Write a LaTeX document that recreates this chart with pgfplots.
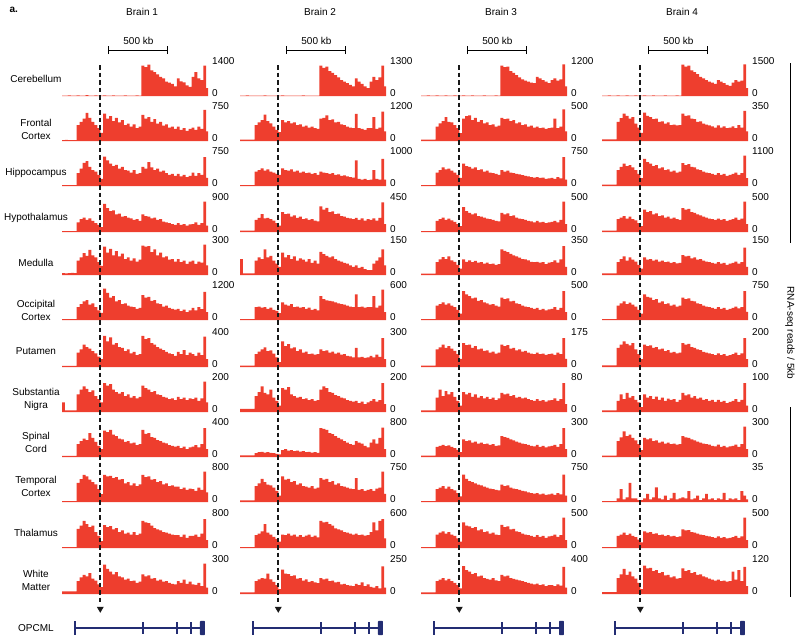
\documentclass[border=0pt]{standalone}
\usepackage{fontspec}
\setmainfont{Liberation Sans}
\usepackage{pgfplots}
\pgfplotsset{compat=1.18}
\definecolor{trkred}{RGB}{238,62,46}
\definecolor{genecol}{RGB}{35,45,115}
\pgfplotsset{
  track/.style={scale only axis, width=146pt, height=32pt, anchor=south west,
    xmin=0, xmax=1240, ymin=0, xtick=\empty, axis line style={draw=none},
    ytick pos=right, yticklabel pos=right, major tick length=0pt,
    scaled y ticks=false,
    yticklabel style={anchor=west, xshift=3pt, yshift=3pt, inner sep=1pt},
    /pgf/number format/1000 sep={}, /pgf/number format/assume math mode=true},
  trk/.style={fill=trkred, draw=none, const plot}
}
\newcommand\trk[4]{%
\begin{axis}[track, at={(#1pt,-#2pt)}, ymax=#3, ytick={0,#3}]
\addplot[trk] coordinates {#4} \closedcycle;
\end{axis}}
\newcommand\head[2]{%
\begin{axis}[scale only axis, width=146pt, height=10pt, at={(#1pt,-50pt)}, anchor=west,
  xmin=0, xmax=1240, ymin=-1, ymax=1, hide axis, clip=false]
\draw[line width=1pt] (axis cs:399,0) -- (axis cs:899,0);
\draw[line width=1pt] (axis cs:399,-0.8) -- (axis cs:399,0.8);
\draw[line width=1pt] (axis cs:899,-0.8) -- (axis cs:899,0.8);
\node[above, inner sep=0pt] at (axis cs:649,1.1) {500 kb};
\node at (axis cs:680,0) [yshift=38pt] {Brain #2};
\coordinate (dtop#2) at (axis cs:325,0);
\end{axis}}
\newcommand\gene[2]{%
\begin{axis}[scale only axis, width=146pt, height=16pt, at={(#1pt,-628pt)}, anchor=west,
  xmin=0, xmax=1240, ymin=-1, ymax=1, hide axis, clip=false]
\draw[genecol, line width=2pt] (axis cs:110,0) -- (axis cs:1200,0);
\fill[genecol] (axis cs:100,-0.85) rectangle (axis cs:122,0.85);
\fill[genecol] (axis cs:676,-0.7) rectangle (axis cs:696,0.7);
\fill[genecol] (axis cs:965,-0.7) rectangle (axis cs:985,0.7);
\fill[genecol] (axis cs:1085,-0.7) rectangle (axis cs:1105,0.7);
\fill[genecol, rounded corners=0.8pt] (axis cs:1172,-0.9) rectangle (axis cs:1214,0.9);
\fill[black!90] ([xshift=-3.5pt]axis cs:325,2.65) -- ([xshift=3.5pt]axis cs:325,2.65) -- (axis cs:325,1.9) -- cycle;
\coordinate (dbot#2) at (axis cs:325,3.2);
\end{axis}}
\begin{document}
\begin{tikzpicture}
\useasboundingbox (0pt,0pt) rectangle (800pt,-641pt);
\node[anchor=west, font=\bfseries] at (6pt,-10pt) {a.};
% row labels
\begin{scope}[every node/.style={align=center, font=\fontsize{10}{13}\selectfont}]
\node at (36pt,-79pt) {Cerebellum};
\node at (36pt,-129pt) {Frontal\\Cortex};
\node at (36pt,-173pt) {Hippocampus};
\node at (36pt,-218pt) {Hypothalamus};
\node at (36pt,-263pt) {Medulla};
\node at (36pt,-310pt) {Occipital\\Cortex};
\node at (36pt,-351pt) {Putamen};
\node at (36pt,-399pt) {Substantia\\Nigra};
\node at (36pt,-442pt) {Spinal\\Cord};
\node at (36pt,-486pt) {Temporal\\Cortex};
\node at (36pt,-533pt) {Thalamus};
\node at (36pt,-580pt) {White\\Matter};
\node at (36pt,-628pt) {OPCML};
\end{scope}
% headers
\head{62}{1}\head{240}{2}\head{421}{3}\head{602}{4}
% ---------------- Brain 1 ----------------
\trk{62}{96}{1400}{(0,14)(25,14)(50,28)(75,14)(100,14)(125,28)(150,14)(175,14)(200,42)(225,14)(250,14)(275,28)(300,14)(325,14)(350,28)(375,14)(400,14)(425,28)(450,14)(475,14)(500,14)(525,28)(550,14)(575,14)(600,14)(625,28)(650,14)(675,1330)(700,1260)(725,1370)(750,1120)(775,1050)(800,950)(825,840)(850,770)(875,630)(900,590)(925,530)(950,420)(975,770)(1000,640)(1025,600)(1050,470)(1075,400)(1100,840)(1125,1050)(1150,770)(1175,700)(1200,1330)(1225,350)(1240,350)}
\trk{62}{141}{750}{(0,20)(25,25)(50,20)(75,22)(100,20)(125,375)(150,450)(175,525)(200,660)(225,540)(250,450)(275,375)(300,300)(325,190)(350,640)(375,525)(400,585)(425,465)(450,540)(475,435)(500,490)(525,375)(550,410)(575,340)(600,390)(625,300)(650,340)(675,615)(700,525)(725,560)(750,450)(775,510)(800,410)(825,450)(850,360)(875,390)(900,315)(925,340)(950,285)(975,340)(1000,260)(1025,300)(1050,240)(1075,285)(1100,315)(1125,260)(1150,340)(1175,285)(1200,730)(1225,225)(1240,225)}
\trk{62}{186}{750}{(0,20)(25,20)(50,20)(75,20)(100,20)(125,300)(150,410)(175,540)(200,585)(225,450)(250,375)(275,340)(300,260)(325,165)(350,690)(375,600)(400,525)(425,465)(450,495)(475,410)(500,450)(525,375)(550,360)(575,315)(600,375)(625,285)(650,300)(675,450)(700,410)(725,560)(750,435)(775,375)(800,410)(825,340)(850,360)(875,300)(900,260)(925,285)(950,240)(975,285)(1000,225)(1025,260)(1050,210)(1075,240)(1100,315)(1125,240)(1150,300)(1175,260)(1200,675)(1225,190)(1240,190)}
\trk{62}{232}{900}{(0,25)(25,25)(50,25)(75,25)(100,25)(125,270)(150,360)(175,405)(200,340)(225,380)(250,315)(275,250)(300,200)(325,135)(350,790)(375,675)(400,585)(425,610)(450,495)(475,520)(500,430)(525,450)(550,405)(575,380)(600,340)(625,360)(650,315)(675,495)(700,450)(725,430)(750,380)(775,405)(800,340)(825,360)(850,290)(875,270)(900,250)(925,225)(950,200)(975,250)(1000,200)(1025,225)(1050,180)(1075,215)(1100,225)(1125,270)(1150,200)(1175,250)(1200,855)(1225,180)(1240,180)}
\trk{62}{275}{300}{(0,18)(25,15)(50,18)(75,20)(100,18)(125,135)(150,165)(175,205)(200,180)(225,235)(250,185)(275,165)(300,120)(325,85)(350,265)(375,210)(400,245)(425,185)(450,225)(475,175)(500,200)(525,150)(550,165)(575,135)(600,155)(625,125)(650,145)(675,275)(700,265)(725,270)(750,215)(775,240)(800,185)(825,210)(850,165)(875,175)(900,145)(925,150)(950,125)(975,150)(1000,120)(1025,135)(1050,105)(1075,125)(1100,135)(1125,105)(1150,125)(1175,115)(1200,285)(1225,90)(1240,90)}
\trk{62}{320}{1200}{(0,35)(25,35)(50,35)(75,35)(100,35)(125,480)(150,600)(175,695)(200,745)(225,575)(250,625)(275,480)(300,360)(325,265)(350,1175)(375,1020)(400,840)(425,900)(450,695)(475,745)(500,600)(525,625)(550,540)(575,505)(600,480)(625,420)(650,455)(675,935)(700,840)(725,865)(750,720)(775,745)(800,625)(825,600)(850,505)(875,540)(900,455)(925,420)(950,385)(975,420)(1000,335)(1025,385)(1050,300)(1075,360)(1100,455)(1125,360)(1150,480)(1175,410)(1200,1055)(1225,300)(1240,300)}
\trk{62}{367}{400}{(0,15)(25,15)(50,15)(75,15)(100,15)(125,180)(150,220)(175,280)(200,250)(225,230)(250,200)(275,170)(300,130)(325,100)(350,390)(375,320)(400,370)(425,280)(450,300)(475,250)(500,240)(525,200)(550,220)(575,170)(600,190)(625,150)(650,160)(675,390)(700,350)(725,360)(750,300)(775,280)(800,250)(825,230)(850,210)(875,190)(900,170)(925,160)(950,140)(975,190)(1000,160)(1025,210)(1050,150)(1075,180)(1100,160)(1125,140)(1150,180)(1175,150)(1200,380)(1225,100)(1240,100)}
\trk{62}{412}{200}{(0,60)(25,10)(50,10)(75,10)(100,10)(125,110)(150,140)(175,160)(200,145)(225,125)(250,135)(275,100)(300,80)(325,60)(350,180)(375,165)(400,175)(425,140)(450,125)(475,115)(500,125)(525,100)(550,110)(575,90)(600,100)(625,85)(650,95)(675,165)(700,150)(725,140)(750,125)(775,130)(800,110)(825,105)(850,95)(875,90)(900,80)(925,85)(950,75)(975,95)(1000,80)(1025,90)(1050,75)(1075,85)(1100,80)(1125,90)(1150,70)(1175,85)(1200,190)(1225,60)(1240,60)}
\trk{62}{457}{400}{(0,15)(25,15)(50,15)(75,15)(100,15)(125,160)(150,200)(175,230)(200,210)(225,300)(250,240)(275,190)(300,140)(325,100)(350,330)(375,310)(400,340)(425,280)(450,260)(475,230)(500,220)(525,190)(550,200)(575,170)(600,180)(625,150)(650,160)(675,340)(700,290)(725,300)(750,250)(775,240)(800,210)(825,200)(850,180)(875,170)(900,150)(925,140)(950,130)(975,140)(1000,110)(1025,130)(1050,100)(1075,120)(1100,130)(1125,150)(1150,120)(1175,160)(1200,360)(1225,100)(1240,100)}
\trk{62}{502}{800}{(0,25)(25,25)(50,25)(75,25)(100,25)(125,480)(150,575)(175,680)(200,640)(225,560)(250,495)(275,440)(300,320)(325,200)(350,680)(375,640)(400,655)(425,600)(450,625)(475,560)(500,575)(525,465)(550,495)(575,415)(600,465)(625,400)(650,440)(675,680)(700,625)(725,640)(750,560)(775,575)(800,495)(825,520)(850,440)(875,465)(900,400)(925,415)(950,385)(975,385)(1000,320)(1025,360)(1050,305)(1075,335)(1100,320)(1125,280)(1150,360)(1175,305)(1200,760)(1225,240)(1240,240)}
\trk{62}{548}{800}{(0,25)(25,25)(50,25)(75,25)(100,25)(125,480)(150,560)(175,680)(200,600)(225,520)(250,560)(275,400)(300,305)(325,175)(350,575)(375,520)(400,545)(425,465)(450,495)(475,400)(500,440)(525,360)(550,385)(575,335)(600,400)(625,320)(650,360)(675,680)(700,640)(725,625)(750,560)(775,495)(800,465)(825,440)(850,400)(875,385)(900,360)(925,335)(950,320)(975,320)(1000,280)(1025,335)(1050,255)(1075,305)(1100,305)(1125,335)(1150,280)(1175,360)(1200,720)(1225,200)(1240,200)}
\trk{62}{594}{300}{(0,25)(25,25)(50,25)(75,25)(100,25)(125,120)(150,155)(175,180)(200,165)(225,195)(250,145)(275,125)(300,90)(325,65)(350,275)(375,235)(400,210)(425,185)(450,205)(475,165)(500,155)(525,135)(550,145)(575,120)(600,125)(625,105)(650,115)(675,185)(700,165)(725,175)(750,145)(775,150)(800,125)(825,135)(850,115)(875,120)(900,105)(925,95)(950,90)(975,120)(1000,105)(1025,135)(1050,95)(1075,115)(1100,90)(1125,85)(1150,105)(1175,75)(1200,285)(1225,60)(1240,60)}
% ---------------- Brain 2 ----------------
\trk{240}{96}{1300}{(0,15)(25,15)(50,25)(75,15)(100,15)(125,20)(150,15)(175,15)(200,25)(225,15)(250,15)(275,20)(300,15)(325,15)(350,25)(375,15)(400,15)(425,20)(450,15)(475,15)(500,15)(525,25)(550,15)(575,15)(600,15)(625,20)(650,15)(675,1235)(700,1145)(725,1195)(750,1015)(775,935)(800,845)(825,755)(850,650)(875,585)(900,520)(925,455)(950,390)(975,715)(1000,585)(1025,495)(1050,390)(1075,325)(1100,585)(1125,780)(1150,650)(1175,755)(1200,1235)(1225,390)(1240,390)}
\trk{240}{141}{1200}{(0,50)(25,50)(50,50)(75,50)(100,50)(125,600)(150,695)(175,780)(200,985)(225,745)(250,660)(275,540)(300,420)(325,335)(350,780)(375,695)(400,745)(425,660)(450,695)(475,600)(500,625)(525,540)(550,575)(575,505)(600,540)(625,480)(650,455)(675,840)(700,865)(725,960)(750,780)(775,815)(800,695)(825,720)(850,625)(875,600)(900,540)(925,505)(950,480)(975,1020)(1000,480)(1025,455)(1050,420)(1075,480)(1100,480)(1125,900)(1150,455)(1175,505)(1200,1105)(1225,360)(1240,360)}
\trk{240}{186}{1000}{(0,30)(25,30)(50,30)(75,30)(100,30)(125,450)(150,500)(175,550)(200,480)(225,520)(250,450)(275,420)(300,380)(325,350)(350,550)(375,500)(400,480)(425,520)(450,450)(475,480)(500,420)(525,450)(550,400)(575,420)(600,380)(625,400)(650,350)(675,450)(700,420)(725,400)(750,380)(775,400)(800,350)(825,360)(850,320)(875,330)(900,300)(925,280)(950,260)(975,800)(1000,220)(1025,200)(1050,220)(1075,180)(1100,200)(1125,500)(1150,220)(1175,200)(1200,850)(1225,200)(1240,200)}
\trk{240}{232}{450}{(0,20)(25,20)(50,20)(75,20)(100,20)(125,170)(150,200)(175,250)(200,190)(225,200)(250,180)(275,160)(300,125)(325,90)(350,280)(375,250)(400,260)(425,215)(450,235)(475,200)(500,215)(525,180)(550,190)(575,170)(600,180)(625,160)(650,150)(675,360)(700,315)(725,340)(750,280)(775,290)(800,250)(825,260)(850,225)(875,215)(900,200)(925,190)(950,180)(975,200)(1000,170)(1025,190)(1050,160)(1075,180)(1100,170)(1125,190)(1150,160)(1175,200)(1200,415)(1225,110)(1240,110)}
\trk{240}{275}{150}{(0,75)(25,8)(50,8)(75,8)(100,8)(125,68)(150,83)(175,75)(200,120)(225,83)(250,90)(275,68)(300,53)(325,38)(350,105)(375,83)(400,93)(425,75)(450,87)(475,68)(500,78)(525,72)(550,63)(575,75)(600,57)(625,68)(650,53)(675,108)(700,98)(725,90)(750,83)(775,87)(800,75)(825,68)(850,63)(875,57)(900,53)(925,45)(950,38)(975,45)(1000,33)(1025,38)(1050,27)(1075,23)(1100,23)(1125,53)(1150,68)(1175,83)(1200,120)(1225,45)(1240,45)}
\trk{240}{320}{600}{(0,18)(25,18)(50,18)(75,18)(100,18)(125,240)(150,250)(175,230)(200,240)(225,210)(250,230)(275,190)(300,170)(325,130)(350,330)(375,290)(400,270)(425,300)(450,240)(475,250)(500,230)(525,240)(550,210)(575,230)(600,190)(625,210)(650,180)(675,450)(700,390)(725,370)(750,360)(775,350)(800,330)(825,310)(850,300)(875,290)(900,270)(925,250)(950,240)(975,480)(1000,240)(1025,250)(1050,230)(1075,240)(1100,240)(1125,450)(1150,230)(1175,270)(1200,570)(1225,150)(1240,150)}
\trk{240}{367}{300}{(0,12)(25,12)(50,12)(75,12)(100,12)(125,120)(150,145)(175,165)(200,185)(225,150)(250,155)(275,125)(300,90)(325,45)(350,240)(375,195)(400,215)(425,175)(450,185)(475,150)(500,165)(525,135)(550,145)(575,120)(600,125)(625,115)(650,120)(675,165)(700,150)(725,155)(750,135)(775,145)(800,125)(825,135)(850,115)(875,120)(900,105)(925,100)(950,90)(975,180)(1000,90)(1025,95)(1050,85)(1075,90)(1100,105)(1125,90)(1150,115)(1175,95)(1200,270)(1225,75)(1240,75)}
\trk{240}{412}{200}{(0,20)(25,20)(50,20)(75,20)(100,20)(125,100)(150,125)(175,160)(200,120)(225,110)(250,140)(275,90)(300,70)(325,40)(350,150)(375,140)(400,155)(425,110)(450,100)(475,90)(500,95)(525,80)(550,85)(575,75)(600,80)(625,70)(650,75)(675,140)(700,160)(725,150)(750,125)(775,120)(800,105)(825,100)(850,90)(875,85)(900,75)(925,70)(950,65)(975,70)(1000,55)(1025,65)(1050,50)(1075,60)(1100,70)(1125,80)(1150,65)(1175,75)(1200,180)(1225,50)(1240,50)}
\trk{240}{457}{800}{(0,40)(25,40)(50,40)(75,40)(100,40)(125,95)(150,120)(175,130)(200,110)(225,120)(250,105)(275,95)(300,80)(325,65)(350,175)(375,200)(400,160)(425,175)(450,145)(475,160)(500,135)(525,145)(550,120)(575,130)(600,110)(625,120)(650,105)(675,720)(700,705)(725,680)(750,600)(775,575)(800,520)(825,480)(850,440)(875,400)(900,360)(925,320)(950,305)(975,400)(1000,360)(1025,335)(1050,280)(1075,240)(1100,360)(1125,440)(1150,335)(1175,480)(1200,735)(1225,200)(1240,200)}
\trk{240}{502}{750}{(0,38)(25,38)(50,38)(75,38)(100,38)(125,375)(150,435)(175,540)(200,465)(225,410)(250,390)(275,340)(300,260)(325,150)(350,600)(375,525)(400,540)(425,465)(450,490)(475,410)(500,435)(525,375)(550,360)(575,340)(600,375)(625,315)(650,340)(675,560)(700,525)(725,540)(750,465)(775,490)(800,410)(825,435)(850,375)(875,360)(900,340)(925,315)(950,300)(975,560)(1000,285)(1025,300)(1050,260)(1075,285)(1100,300)(1125,260)(1150,315)(1175,340)(1200,710)(1225,190)(1240,190)}
\trk{240}{548}{600}{(0,18)(25,18)(50,18)(75,18)(100,18)(125,240)(150,270)(175,310)(200,450)(225,290)(250,250)(275,210)(300,170)(325,120)(350,250)(375,240)(400,270)(425,230)(450,250)(475,215)(500,240)(525,210)(550,230)(575,250)(600,210)(625,230)(650,200)(675,510)(700,480)(725,490)(750,450)(775,420)(800,370)(825,350)(850,330)(875,300)(900,290)(925,270)(950,250)(975,270)(1000,240)(1025,250)(1050,230)(1075,240)(1100,300)(1125,480)(1150,330)(1175,510)(1200,540)(1225,180)(1240,180)}
\trk{240}{594}{250}{(0,12)(25,12)(50,12)(75,12)(100,12)(125,100)(150,115)(175,125)(200,120)(225,160)(250,115)(275,95)(300,70)(325,38)(350,190)(375,160)(400,155)(425,140)(450,145)(475,120)(500,125)(525,105)(550,115)(575,95)(600,100)(625,90)(650,85)(675,125)(700,115)(725,120)(750,100)(775,105)(800,90)(825,95)(850,75)(875,80)(900,70)(925,65)(950,62)(975,80)(1000,70)(1025,90)(1050,62)(1075,75)(1100,55)(1125,50)(1150,62)(1175,45)(1200,215)(1225,50)(1240,50)}
% ---------------- Brain 3 ----------------
\trk{421}{96}{1200}{(0,12)(25,12)(50,24)(75,12)(100,12)(125,20)(150,12)(175,12)(200,24)(225,12)(250,12)(275,20)(300,12)(325,12)(350,24)(375,12)(400,12)(425,20)(450,12)(475,12)(500,12)(525,24)(550,12)(575,12)(600,12)(625,20)(650,12)(675,1140)(700,1080)(725,1105)(750,935)(775,865)(800,780)(825,695)(850,625)(875,575)(900,540)(925,505)(950,480)(975,720)(1000,660)(1025,600)(1050,540)(1075,480)(1100,600)(1125,660)(1150,575)(1175,625)(1200,1190)(1225,360)(1240,360)}
\trk{421}{141}{500}{(0,20)(25,20)(50,20)(75,20)(100,20)(125,225)(150,275)(175,310)(200,375)(225,300)(250,290)(275,250)(300,200)(325,125)(350,350)(375,390)(400,400)(425,325)(450,360)(475,300)(500,325)(525,275)(550,290)(575,250)(600,260)(625,225)(650,240)(675,360)(700,340)(725,350)(750,310)(775,325)(800,275)(825,290)(850,250)(875,260)(900,225)(925,240)(950,210)(975,225)(1000,200)(1025,210)(1050,190)(1075,200)(1100,210)(1125,350)(1150,200)(1175,225)(1200,495)(1225,150)(1240,150)}
\trk{421}{186}{750}{(0,22)(25,22)(50,22)(75,22)(100,22)(125,315)(150,375)(175,435)(200,390)(225,410)(250,360)(275,315)(300,260)(325,190)(350,525)(375,465)(400,450)(425,410)(450,435)(475,375)(500,390)(525,340)(550,360)(575,315)(600,300)(625,285)(650,260)(675,375)(700,340)(725,360)(750,315)(775,300)(800,285)(825,270)(850,255)(875,240)(900,225)(925,210)(950,195)(975,210)(1000,190)(1025,195)(1050,165)(1075,180)(1100,190)(1125,165)(1150,210)(1175,180)(1200,675)(1225,150)(1240,150)}
\trk{421}{232}{500}{(0,15)(25,15)(50,15)(75,15)(100,15)(125,175)(150,200)(175,225)(200,190)(225,210)(250,180)(275,160)(300,125)(325,90)(350,390)(375,325)(400,300)(425,275)(450,290)(475,250)(500,240)(525,225)(550,210)(575,200)(600,190)(625,175)(650,165)(675,300)(700,275)(725,290)(750,250)(775,260)(800,225)(825,210)(850,200)(875,190)(900,175)(925,165)(950,150)(975,175)(1000,150)(1025,160)(1050,140)(1075,150)(1100,160)(1125,175)(1150,150)(1175,190)(1200,475)(1225,125)(1240,125)}
\trk{421}{275}{350}{(0,14)(25,14)(50,14)(75,14)(100,14)(125,140)(150,170)(175,195)(200,175)(225,205)(250,160)(275,145)(300,110)(325,70)(350,170)(375,145)(400,160)(425,140)(450,155)(475,135)(500,140)(525,125)(550,135)(575,120)(600,125)(625,110)(650,120)(675,280)(700,265)(725,250)(750,230)(775,215)(800,205)(825,190)(850,175)(875,170)(900,160)(925,145)(950,140)(975,145)(1000,135)(1025,140)(1050,120)(1075,135)(1100,140)(1125,160)(1150,135)(1175,170)(1200,315)(1225,90)(1240,90)}
\trk{421}{320}{500}{(0,15)(25,15)(50,15)(75,15)(100,15)(125,225)(150,250)(175,275)(200,240)(225,260)(250,225)(275,200)(300,160)(325,100)(350,450)(375,400)(400,375)(425,340)(450,350)(475,300)(500,310)(525,275)(550,260)(575,240)(600,250)(625,225)(650,210)(675,350)(700,325)(725,340)(750,290)(775,300)(800,260)(825,250)(850,225)(875,210)(900,200)(925,190)(950,175)(975,190)(1000,160)(1025,175)(1050,150)(1075,165)(1100,175)(1125,200)(1150,160)(1175,190)(1200,450)(1225,125)(1240,125)}
\trk{421}{367}{175}{(0,7)(25,7)(50,7)(75,7)(100,7)(125,96)(150,108)(175,122)(200,105)(225,114)(250,101)(275,88)(300,70)(325,44)(350,131)(375,119)(400,122)(425,105)(450,114)(475,96)(500,101)(525,88)(550,91)(575,79)(600,84)(625,73)(650,79)(675,122)(700,114)(725,119)(750,101)(775,105)(800,91)(825,96)(850,84)(875,88)(900,79)(925,73)(950,70)(975,79)(1000,70)(1025,73)(1050,66)(1075,70)(1100,73)(1125,66)(1150,79)(1175,70)(1200,158)(1225,44)(1240,44)}
\trk{421}{412}{80}{(0,4)(25,4)(50,4)(75,4)(100,4)(125,36)(150,56)(175,40)(200,52)(225,44)(250,50)(275,38)(300,28)(325,16)(350,50)(375,44)(400,48)(425,38)(450,44)(475,36)(500,40)(525,34)(550,38)(575,32)(600,36)(625,30)(650,34)(675,48)(700,44)(725,46)(750,40)(775,42)(800,36)(825,38)(850,34)(875,36)(900,32)(925,30)(950,28)(975,32)(1000,28)(1025,30)(1050,26)(1075,29)(1100,30)(1125,34)(1150,28)(1175,32)(1200,72)(1225,20)(1240,20)}
\trk{421}{457}{300}{(0,12)(25,12)(50,12)(75,12)(100,12)(125,96)(150,105)(175,114)(200,102)(225,108)(250,96)(275,84)(300,66)(325,45)(350,165)(375,150)(400,156)(425,135)(450,144)(475,126)(500,135)(525,120)(550,126)(575,114)(600,120)(625,105)(650,108)(675,195)(700,186)(725,180)(750,165)(775,156)(800,144)(825,135)(850,126)(875,120)(900,114)(925,105)(950,99)(975,114)(1000,96)(1025,105)(1050,90)(1075,99)(1100,105)(1125,114)(1150,96)(1175,120)(1200,270)(1225,75)(1240,75)}
\trk{421}{502}{750}{(0,22)(25,22)(50,22)(75,22)(100,22)(125,300)(150,340)(175,375)(200,315)(225,360)(250,300)(275,270)(300,210)(325,135)(350,640)(375,540)(400,490)(425,465)(450,435)(475,410)(500,390)(525,360)(550,340)(575,315)(600,300)(625,285)(650,270)(675,410)(700,375)(725,390)(750,340)(775,315)(800,300)(825,285)(850,260)(875,250)(900,225)(925,210)(950,195)(975,210)(1000,180)(1025,195)(1050,165)(1075,180)(1100,195)(1125,165)(1150,210)(1175,180)(1200,640)(1225,150)(1240,150)}
\trk{421}{548}{500}{(0,15)(25,15)(50,15)(75,15)(100,15)(125,210)(150,240)(175,260)(200,225)(225,250)(250,210)(275,190)(300,150)(325,100)(350,400)(375,350)(400,340)(425,310)(450,325)(475,275)(500,290)(525,250)(550,260)(575,225)(600,240)(625,210)(650,200)(675,360)(700,325)(725,340)(750,290)(775,300)(800,260)(825,250)(850,225)(875,210)(900,200)(925,190)(950,175)(975,200)(1000,175)(1025,190)(1050,160)(1075,180)(1100,190)(1125,210)(1150,175)(1175,200)(1200,475)(1225,125)(1240,125)}
\trk{421}{594}{400}{(0,20)(25,20)(50,20)(75,20)(100,20)(125,160)(150,180)(175,200)(200,170)(225,190)(250,160)(275,140)(300,110)(325,70)(350,350)(375,300)(400,280)(425,250)(450,260)(475,220)(500,230)(525,200)(550,190)(575,180)(600,200)(625,170)(650,160)(675,240)(700,220)(725,230)(750,200)(775,190)(800,180)(825,170)(850,160)(875,150)(900,140)(925,130)(950,120)(975,130)(1000,110)(1025,120)(1050,100)(1075,110)(1100,110)(1125,100)(1150,120)(1175,105)(1200,340)(1225,80)(1240,80)}
% ---------------- Brain 4 ----------------
\trk{602}{96}{1500}{(0,15)(25,15)(50,30)(75,15)(100,15)(125,25)(150,15)(175,15)(200,30)(225,15)(250,15)(275,25)(300,15)(325,15)(350,30)(375,15)(400,15)(425,25)(450,15)(475,15)(500,15)(525,30)(550,15)(575,15)(600,15)(625,25)(650,15)(675,1470)(700,1380)(725,1425)(750,1200)(775,1125)(800,1020)(825,900)(850,825)(875,750)(900,675)(925,630)(950,570)(975,750)(1000,675)(1025,600)(1050,525)(1075,480)(1100,630)(1125,750)(1150,675)(1175,720)(1200,1480)(1225,375)(1240,375)}
\trk{602}{141}{350}{(0,18)(25,18)(50,18)(75,18)(100,18)(125,210)(150,250)(175,300)(200,275)(225,245)(250,260)(275,190)(300,145)(325,88)(350,310)(375,275)(400,260)(425,240)(450,245)(475,210)(500,215)(525,190)(550,205)(575,175)(600,180)(625,170)(650,175)(675,300)(700,275)(725,280)(750,245)(775,240)(800,210)(825,215)(850,190)(875,180)(900,170)(925,160)(950,145)(975,170)(1000,145)(1025,160)(1050,140)(1075,145)(1100,160)(1125,140)(1150,175)(1175,145)(1200,330)(1225,105)(1240,105)}
\trk{602}{186}{1100}{(0,45)(25,45)(50,45)(75,45)(100,45)(125,550)(150,660)(175,770)(200,680)(225,715)(250,640)(275,550)(300,420)(325,275)(350,935)(375,825)(400,770)(425,680)(450,715)(475,605)(500,640)(525,550)(550,570)(575,495)(600,530)(625,460)(650,495)(675,790)(700,715)(725,750)(750,660)(775,640)(800,570)(825,550)(850,495)(875,460)(900,440)(925,420)(950,385)(975,440)(1000,385)(1025,420)(1050,350)(1075,385)(1100,420)(1125,460)(1150,385)(1175,440)(1200,1045)(1225,275)(1240,275)}
\trk{602}{232}{500}{(0,20)(25,20)(50,20)(75,20)(100,20)(125,200)(150,225)(175,250)(200,210)(225,240)(250,200)(275,180)(300,140)(325,90)(350,350)(375,310)(400,325)(425,275)(450,290)(475,250)(500,260)(525,225)(550,240)(575,210)(600,225)(625,200)(650,190)(675,375)(700,350)(725,360)(750,310)(775,300)(800,275)(825,260)(850,240)(875,225)(900,210)(925,200)(950,190)(975,210)(1000,190)(1025,200)(1050,175)(1075,190)(1100,200)(1125,225)(1150,190)(1175,210)(1200,475)(1225,125)(1240,125)}
\trk{602}{275}{150}{(0,8)(25,8)(50,8)(75,8)(100,8)(125,60)(150,75)(175,87)(200,68)(225,83)(250,72)(275,63)(300,48)(325,30)(350,83)(375,72)(400,75)(425,68)(450,72)(475,63)(500,68)(525,60)(550,63)(575,57)(600,60)(625,54)(650,57)(675,93)(700,87)(725,90)(750,78)(775,83)(800,72)(825,75)(850,68)(875,63)(900,60)(925,57)(950,53)(975,60)(1000,53)(1025,57)(1050,48)(1075,53)(1100,57)(1125,63)(1150,53)(1175,60)(1200,128)(1225,38)(1240,38)}
\trk{602}{320}{750}{(0,22)(25,22)(50,22)(75,22)(100,22)(125,340)(150,390)(175,435)(200,375)(225,410)(250,360)(275,315)(300,240)(325,150)(350,600)(375,540)(400,525)(425,465)(450,490)(475,410)(500,435)(525,375)(550,390)(575,340)(600,360)(625,315)(650,340)(675,525)(700,490)(725,510)(750,450)(775,435)(800,390)(825,375)(850,340)(875,315)(900,300)(925,285)(950,260)(975,300)(1000,260)(1025,285)(1050,240)(1075,260)(1100,285)(1125,315)(1150,270)(1175,300)(1200,675)(1225,190)(1240,190)}
\trk{602}{367}{200}{(0,10)(25,10)(50,10)(75,10)(100,10)(125,120)(150,140)(175,160)(200,145)(225,135)(250,150)(275,110)(300,80)(325,50)(350,140)(375,130)(400,135)(425,120)(450,125)(475,110)(500,115)(525,100)(550,105)(575,90)(600,95)(625,85)(650,90)(675,150)(700,140)(725,145)(750,125)(775,120)(800,110)(825,105)(850,95)(875,90)(900,85)(925,80)(950,75)(975,85)(1000,75)(1025,80)(1050,70)(1075,75)(1100,80)(1125,90)(1150,75)(1175,85)(1200,180)(1225,50)(1240,50)}
\trk{602}{412}{100}{(0,5)(25,5)(50,5)(75,5)(100,5)(125,35)(150,55)(175,40)(200,60)(225,45)(250,50)(275,38)(300,30)(325,15)(350,55)(375,45)(400,50)(425,40)(450,48)(475,38)(500,45)(525,35)(550,42)(575,38)(600,40)(625,32)(650,38)(675,60)(700,52)(725,55)(750,45)(775,50)(800,42)(825,45)(850,38)(875,40)(900,35)(925,38)(950,32)(975,38)(1000,32)(1025,35)(1050,28)(1075,32)(1100,35)(1125,40)(1150,32)(1175,38)(1200,90)(1225,20)(1240,20)}
\trk{602}{457}{300}{(0,12)(25,12)(50,12)(75,12)(100,12)(125,150)(150,185)(175,240)(200,195)(225,210)(250,180)(275,155)(300,120)(325,65)(350,180)(375,165)(400,175)(425,150)(450,155)(475,135)(500,145)(525,125)(550,135)(575,120)(600,125)(625,115)(650,120)(675,195)(700,185)(725,180)(750,165)(775,155)(800,145)(825,135)(850,125)(875,120)(900,115)(925,105)(950,100)(975,115)(1000,95)(1025,105)(1050,90)(1075,100)(1100,105)(1125,115)(1150,95)(1175,120)(1200,285)(1225,75)(1240,75)}
\trk{602}{502}{35}{(0,1)(25,1)(50,1)(75,1)(100,1)(125,4)(150,14)(175,3)(200,5)(225,21)(250,4)(275,4)(300,2)(325,2)(350,4)(375,9)(400,3)(425,5)(450,16)(475,4)(500,3)(525,7)(550,2)(575,4)(600,10)(625,3)(650,4)(675,5)(700,4)(725,12)(750,3)(775,4)(800,7)(825,2)(850,4)(875,9)(900,3)(925,4)(950,2)(975,4)(1000,3)(1025,10)(1050,2)(1075,4)(1100,3)(1125,4)(1150,2)(1175,12)(1200,7)(1225,3)(1240,3)}
\trk{602}{548}{500}{(0,15)(25,15)(50,15)(75,15)(100,15)(125,190)(150,210)(175,240)(200,200)(225,225)(250,190)(275,170)(300,130)(325,90)(350,260)(375,240)(400,250)(425,220)(450,230)(475,200)(500,210)(525,190)(550,200)(575,180)(600,190)(625,170)(650,180)(675,290)(700,275)(725,280)(750,250)(775,240)(800,225)(825,210)(850,200)(875,190)(900,180)(925,170)(950,160)(975,180)(1000,160)(1025,170)(1050,150)(1075,160)(1100,170)(1125,190)(1150,160)(1175,180)(1200,475)(1225,125)(1240,125)}
\trk{602}{594}{120}{(0,7)(25,7)(50,7)(75,7)(100,7)(125,60)(150,74)(175,94)(200,72)(225,84)(250,66)(275,58)(300,42)(325,18)(350,106)(375,96)(400,98)(425,86)(450,90)(475,78)(500,82)(525,70)(550,72)(575,62)(600,66)(625,58)(650,60)(675,96)(700,86)(725,90)(750,78)(775,82)(800,72)(825,74)(850,66)(875,62)(900,58)(925,54)(950,50)(975,54)(1000,48)(1025,50)(1050,46)(1075,48)(1100,84)(1125,54)(1150,90)(1175,48)(1200,102)(1225,30)(1240,30)}
% gene models
\gene{62}{1}\gene{240}{2}\gene{421}{3}\gene{602}{4}
% dashed lines
\foreach \k in {1,2,3,4}{
  \draw[line width=1.6pt, black!90, dash pattern=on 4.5pt off 3pt] ([yshift=-15pt]dtop\k) -- (dbot\k);
}
% right-hand scale annotation
\draw[line width=0.8pt] (790pt,-63pt) -- (790pt,-243pt);
\draw[line width=0.8pt] (790pt,-407pt) -- (790pt,-597pt);
\node[rotate=-90] at (790pt,-333pt) {RNA-seq reads / 5kb};
\end{tikzpicture}
\end{document}
